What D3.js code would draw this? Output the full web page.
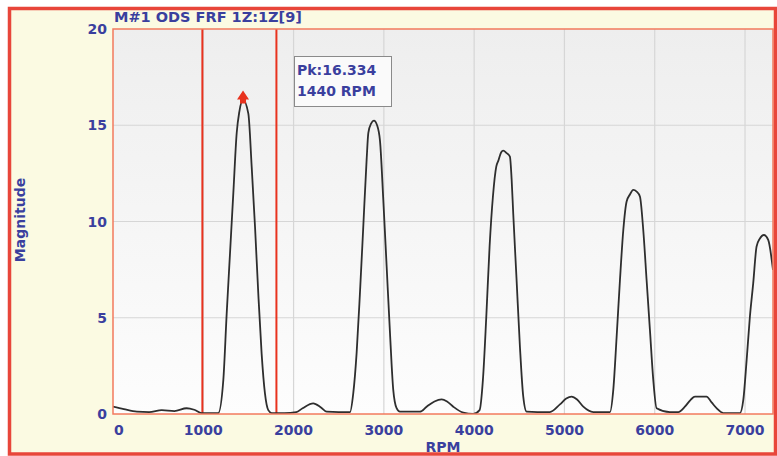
<!DOCTYPE html>
<html lang="en">
<head>
<meta charset="utf-8">
<title>ODS FRF magnitude vs RPM</title>
<script src="https://cdn.jsdelivr.net/npm/d3@7"></script>
<style>
  html, body { margin: 0; padding: 0; background: #ffffff; }
  svg { display: block; font-family: "DejaVu Sans", Verdana, sans-serif; font-weight: bold; }
</style>
</head>
<body>
<svg id="chart"></svg>
<script>
// data
const rpm = [0, 120, 265, 400, 540, 680, 815, 900, 982, 1100, 1166, 1222, 1259, 1296, 1333, 1370, 1399, 1440,
  1499, 1536, 1573, 1609, 1646, 1683, 1720, 1757, 1900, 2030, 2100, 2218, 2300, 2366, 2500, 2625, 2661, 2698,
  2735, 2772, 2809, 2828, 2860, 2890, 2925, 2957, 2994, 3031, 3068, 3104, 3141, 3178, 3300, 3400, 3474, 3560,
  3640, 3700, 3769, 3880, 3990, 4060, 4097, 4134, 4171, 4208, 4245, 4267, 4300, 4322, 4360, 4396, 4415, 4433,
  4470, 4507, 4544, 4581, 4700, 4839, 4950, 5020, 5079, 5140, 5209, 5320, 5504, 5541, 5578, 5615, 5652, 5688,
  5725, 5762, 5800, 5836, 5873, 5910, 5947, 5984, 6021, 6168, 6261, 6334, 6400, 6445, 6574, 6630, 6685, 6759,
  6944, 6981, 7018, 7054, 7091, 7128, 7165, 7209, 7257, 7310];
const magnitude = [0.38, 0.25, 0.12, 0.1, 0.2, 0.15, 0.3, 0.22, 0.05, 0.05, 0.05, 1.77, 5.2, 8.35, 11.5, 14.6, 15.7, 16.33,
  15.6, 12.85, 9.73, 6.27, 3.15, 1.07, 0.2, 0.05, 0.05, 0.1, 0.3, 0.55, 0.35, 0.12, 0.1, 0.1, 1.07, 3.15,
  6.27, 9.73, 13.2, 14.6, 15.1, 15.24, 15.0, 14.2, 11.1, 7.65, 4.19, 1.25, 0.3, 0.12, 0.12, 0.12, 0.38, 0.65,
  0.76, 0.65, 0.38, 0.07, 0.0, 0.2, 1.77, 5.0, 8.7, 11.3, 12.85, 13.15, 13.6, 13.68, 13.55, 13.37, 12.2, 10.4,
  6.96, 3.5, 0.9, 0.12, 0.1, 0.1, 0.5, 0.8, 0.9, 0.75, 0.38, 0.1, 0.1, 1.25, 4.0, 6.96, 9.56, 11.03,
  11.4, 11.64, 11.55, 11.3, 9.56, 6.96, 4.36, 1.77, 0.3, 0.1, 0.1, 0.38, 0.75, 0.9, 0.9, 0.6, 0.3, 0.05,
  0.05, 0.73, 2.8, 5.05, 6.8, 8.7, 9.12, 9.3, 9.04, 7.48];
const xTicks = [0, 1000, 2000, 3000, 4000, 5000, 6000, 7000];
const yTicks = [0, 5, 10, 15, 20];
const cursors = [990, 1810];
const peak = { rpm: 1440, value: 16.334 };
const title = "M#1 ODS FRF 1Z:1Z[9]";
const xLabel = "RPM";
const yLabel = "Magnitude";

const W = 777, H = 456;
const plot = { left: 113, top: 29, right: 773, bottom: 414 };
const textColor = "#3a3f9e";

const svg = d3.select("#chart").attr("width", W).attr("height", H);

// cream panel with red frame
svg.append("rect").attr("x", 9.5).attr("y", 8.5).attr("width", 766).attr("height", 445.5)
  .attr("fill", "#fbfae2");

const x = d3.scaleLinear().domain([0, 7310]).range([plot.left, plot.right]);
const y = d3.scaleLinear().domain([0, 20]).range([plot.bottom, plot.top]);

const defs = svg.append("defs");
const grad = defs.append("linearGradient").attr("id", "bg").attr("x1", 0).attr("y1", 0).attr("x2", 0).attr("y2", 1);
grad.append("stop").attr("offset", "0%").attr("stop-color", "#eeeeee");
grad.append("stop").attr("offset", "100%").attr("stop-color", "#fdfdfd");
defs.append("clipPath").attr("id", "clip").append("rect")
  .attr("x", plot.left).attr("y", plot.top)
  .attr("width", plot.right - plot.left).attr("height", plot.bottom - plot.top);

svg.append("rect").attr("x", plot.left).attr("y", plot.top)
  .attr("width", plot.right - plot.left).attr("height", plot.bottom - plot.top)
  .attr("fill", "url(#bg)");

// grid
svg.append("g").selectAll("line").data(xTicks.slice(1)).join("line")
  .attr("x1", d => x(d)).attr("x2", d => x(d)).attr("y1", plot.top).attr("y2", plot.bottom)
  .attr("stroke", "#d6d6d6").attr("stroke-width", 1.2);
svg.append("g").selectAll("line").data(yTicks.slice(1, -1)).join("line")
  .attr("x1", plot.left).attr("x2", plot.right).attr("y1", d => y(d)).attr("y2", d => y(d))
  .attr("stroke", "#d6d6d6").attr("stroke-width", 1.2);

// cursor lines
svg.append("g").selectAll("line").data(cursors).join("line")
  .attr("x1", d => x(d)).attr("x2", d => x(d)).attr("y1", plot.top).attr("y2", plot.bottom)
  .attr("stroke", "#e8321e").attr("stroke-width", 2);

// curve
const pts = rpm.map((r, i) => [r, magnitude[i]]);
svg.append("path").datum(pts)
  .attr("clip-path", "url(#clip)")
  .attr("fill", "none").attr("stroke", "#2e2e2e").attr("stroke-width", 1.8)
  .attr("d", d3.line().x(d => x(d[0])).y(d => y(d[1])).curve(d3.curveMonotoneX));

// plot border
svg.append("rect").attr("x", plot.left).attr("y", plot.top)
  .attr("width", plot.right - plot.left).attr("height", plot.bottom - plot.top)
  .attr("fill", "none").attr("stroke", "#f27a5e").attr("stroke-width", 1.5);

// peak marker
const px = x(peak.rpm), py = y(peak.value);
svg.append("path")
  .attr("d", `M${px},${py - 9} L${px + 6},${py} L${px + 3},${py} L${px + 3},${py + 4} L${px - 3},${py + 4} L${px - 3},${py} L${px - 6},${py} Z`)
  .attr("fill", "#e8321e");

// annotation box
const box = svg.append("g");
box.append("rect").attr("x", 294.5).attr("y", 56.5).attr("width", 97).attr("height", 50)
  .attr("fill", "#fafafa").attr("stroke", "#8a8a8a").attr("stroke-width", 1);
box.append("text").attr("x", 297).attr("y", 75).attr("fill", textColor).attr("font-size", 14)
  .text("Pk:" + peak.value.toFixed(3));
box.append("text").attr("x", 297).attr("y", 96).attr("fill", textColor).attr("font-size", 14)
  .text(peak.rpm + " " + xLabel);

// tick labels
svg.append("g").selectAll("text").data(xTicks).join("text")
  .attr("x", d => d === 0 ? plot.left + 1 : x(d))
  .attr("y", 435).attr("text-anchor", d => d === 0 ? "start" : "middle")
  .attr("fill", textColor).attr("font-size", 14).text(d => d);
svg.append("g").selectAll("text").data(yTicks).join("text")
  .attr("x", 107).attr("y", d => y(d) + 5).attr("text-anchor", "end")
  .attr("fill", textColor).attr("font-size", 14).text(d => d);

// titles
svg.append("text").attr("x", 114).attr("y", 22).attr("fill", textColor).attr("font-size", 14.5).text(title);
svg.append("text").attr("x", (plot.left + plot.right) / 2).attr("y", 452).attr("text-anchor", "middle")
  .attr("fill", textColor).attr("font-size", 14).text(xLabel);
svg.append("text").attr("transform", "translate(25,220) rotate(-90)").attr("text-anchor", "middle")
  .attr("fill", textColor).attr("font-size", 14).text(yLabel);

// outer red frame
svg.append("rect").attr("x", 9.5).attr("y", 8.5).attr("width", 766).attr("height", 445.5)
  .attr("fill", "none").attr("stroke", "#e8463a").attr("stroke-width", 3.5);
</script>
</body>
</html>
